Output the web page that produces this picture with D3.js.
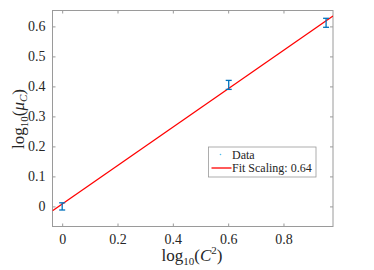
<!DOCTYPE html>
<html>
<head>
<meta charset="utf-8">
<script src="https://cdn.jsdelivr.net/npm/d3@7"></script>
<style>
  body { margin: 0; background: #fff; }
  svg text { font-family: 'Liberation Serif', 'Times New Roman', 'DejaVu Serif', serif !important; fill: #262626; }
</style>
</head>
<body>
<svg id="chart" width="374" height="270"></svg>
<script>
// data
var logC2 = [0, 0.602, 0.954];
var logMu = [0, 0.405, 0.612];
var errMu = [0.012, 0.015, 0.015];
var fitSlope = 0.64;
var fitIntercept = 0.008;
var xTicks = [0, 0.2, 0.4, 0.6, 0.8];
var yTicks = [0, 0.1, 0.2, 0.3, 0.4, 0.5, 0.6];
var legendLabels = ["Data", "Fit Scaling: 0.64"];

var serif = "'Liberation Serif', 'Times New Roman', serif";
var margin = {top: 10.5, right: 41, bottom: 43.5, left: 52.5},
    width = 374 - margin.left - margin.right,
    height = 270 - margin.top - margin.bottom;

var svg = d3.select("#chart");
var g = svg.append("g").attr("transform", "translate(" + margin.left + "," + margin.top + ")");

var x = d3.scaleLinear().domain([-0.035, 0.979]).range([0, width]);
var y = d3.scaleLinear().domain([-0.067, 0.653]).range([height, 0]);

var axisColor = "#9a9a9a";

// axes with inward ticks, all four sides
function styleAxis(sel) {
  sel.attr("font-family", serif);
  sel.select(".domain").remove();
  sel.selectAll(".tick line").attr("stroke", axisColor);
  sel.selectAll(".tick text").style("font-size", "14px").attr("fill", "#262626");
}
g.append("g").attr("transform", "translate(0," + height + ")")
  .call(d3.axisBottom(x).tickValues(xTicks).tickSize(-3).tickPadding(8).tickFormat(d3.format("")))
  .call(styleAxis);
g.append("g")
  .call(d3.axisTop(x).tickValues(xTicks).tickSize(-3).tickFormat(""))
  .call(styleAxis);
g.append("g")
  .call(d3.axisLeft(y).tickValues(yTicks).tickSize(-3).tickPadding(7).tickFormat(d3.format("")))
  .call(styleAxis);
g.append("g").attr("transform", "translate(" + width + ",0)")
  .call(d3.axisRight(y).tickValues(yTicks).tickSize(-3).tickFormat(""))
  .call(styleAxis);

g.append("rect").attr("width", width).attr("height", height)
  .attr("fill", "none").attr("stroke", axisColor).attr("stroke-width", 1);

// fit line
var clipId = "plotclip";
g.append("clipPath").attr("id", clipId).append("rect").attr("width", width).attr("height", height);
var xd = x.domain();
g.append("line")
  .attr("clip-path", "url(#" + clipId + ")")
  .attr("x1", x(xd[0])).attr("y1", y(fitIntercept + fitSlope * xd[0]))
  .attr("x2", x(xd[1])).attr("y2", y(fitIntercept + fitSlope * xd[1]))
  .attr("stroke", "#ff0000").attr("stroke-width", 1.3);

// error bars
var blue = "#0072BD";
var pts = logC2.map(function(d, i) { return {x: d, y: logMu[i], e: errMu[i]}; });
var eb = g.selectAll(".eb").data(pts).enter().append("g").attr("class", "eb")
  .attr("stroke", blue).attr("stroke-width", 1.3);
eb.append("line")
  .attr("x1", function(d) { return x(d.x); }).attr("x2", function(d) { return x(d.x); })
  .attr("y1", function(d) { return y(d.y - d.e); }).attr("y2", function(d) { return y(d.y + d.e); });
eb.append("line")
  .attr("x1", function(d) { return x(d.x) - 3; }).attr("x2", function(d) { return x(d.x) + 3; })
  .attr("y1", function(d) { return y(d.y - d.e); }).attr("y2", function(d) { return y(d.y - d.e); });
eb.append("line")
  .attr("x1", function(d) { return x(d.x) - 3; }).attr("x2", function(d) { return x(d.x) + 3; })
  .attr("y1", function(d) { return y(d.y + d.e); }).attr("y2", function(d) { return y(d.y + d.e); });

// legend
var lg = svg.append("g").attr("transform", "translate(208.5,147)");
lg.append("rect").attr("width", 107.5).attr("height", 30)
  .attr("fill", "#fff").attr("stroke", "#9a9a9a").attr("stroke-width", 0.8);
lg.append("circle").attr("cx", 12).attr("cy", 7.5).attr("r", 0.8).attr("fill", "#4DBEEE");
lg.append("line").attr("x1", 3).attr("x2", 23).attr("y1", 21).attr("y2", 21)
  .attr("stroke", "#ff0000").attr("stroke-width", 1.3);
lg.selectAll("text.lab").data(legendLabels).enter().append("text").attr("class", "lab")
  .attr("x", 23.5).attr("y", function(d, i) { return 11.5 + i * 13.5; })
  .attr("font-family", serif)
  .style("font-size", "12px").text(function(d) { return d; });

// axis labels
var xl = svg.append("text").attr("x", 192).attr("y", 261).attr("text-anchor", "middle")
  .attr("font-family", serif).style("font-size", "17px");
xl.append("tspan").text("log");
xl.append("tspan").attr("dy", 4).style("font-size", "11px").text("10");
xl.append("tspan").attr("dy", -4).text("(");
xl.append("tspan").style("font-style", "italic").text("C");
xl.append("tspan").attr("dy", -7).style("font-size", "11px").text("2");
xl.append("tspan").attr("dy", 7).text(")");

var yl = svg.append("text").attr("transform", "translate(23.5,119) rotate(-90)").attr("text-anchor", "middle")
  .attr("font-family", serif).style("font-size", "17px");
yl.append("tspan").text("log");
yl.append("tspan").attr("dy", 4).style("font-size", "11px").text("10");
yl.append("tspan").attr("dy", -4).text("(");
yl.append("tspan").style("font-style", "italic").text("μ");
yl.append("tspan").attr("dy", 3).style("font-size", "11px").style("font-style", "italic").text("C");
yl.append("tspan").attr("dy", -3).text(")");
</script>
</body>
</html>
